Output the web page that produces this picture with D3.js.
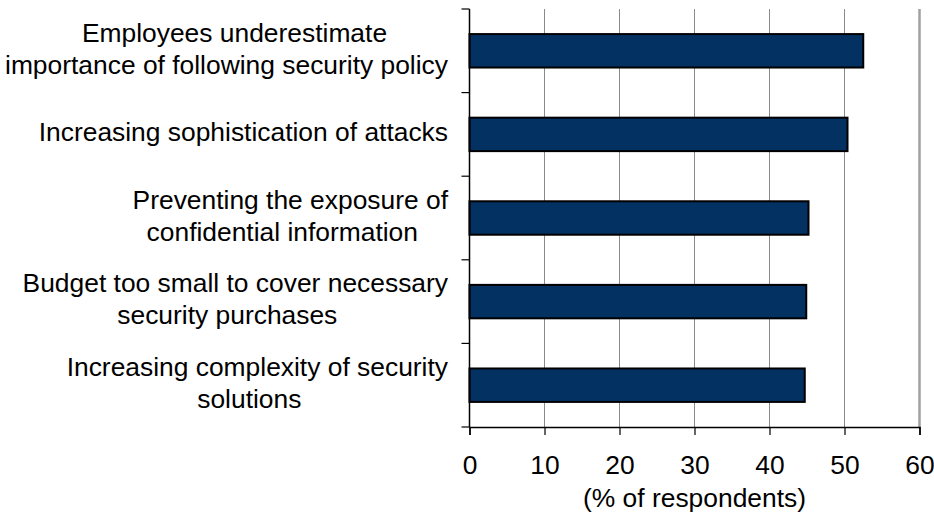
<!DOCTYPE html>
<html>
<head>
<meta charset="utf-8">
<script src="https://cdn.jsdelivr.net/npm/d3@7"></script>
<style>
  html, body { margin: 0; padding: 0; background: #fff; }
  svg { display: block; font-family: "Liberation Sans", Arial, sans-serif; }
</style>
</head>
<body>
<svg id="chart" width="934" height="516"></svg>
<script>
const categories = [
  ["Employees underestimate", "importance of following security policy"],
  ["Increasing sophistication of attacks"],
  ["Preventing the exposure of", "confidential information"],
  ["Budget too small to cover necessary", "security purchases"],
  ["Increasing complexity of security", "solutions"]
];
const values = [52.5, 50.4, 45.2, 44.9, 44.7];
const xTicks = [0, 10, 20, 30, 40, 50, 60];
const xTitle = "(% of respondents)";

const svg = d3.select("#chart");
const margin = { left: 469.5, right: 14.5, top: 9, bottom: 89 };
const W = 934, H = 516;
const plotW = W - margin.left - margin.right;
const plotH = H - margin.top - margin.bottom;
const FS = 26.4;

const x = d3.scaleLinear().domain([0, 60]).range([margin.left, margin.left + plotW]);
const y = d3.scaleBand().domain(d3.range(categories.length))
  .range([margin.top, margin.top + plotH]).paddingInner(0.6).paddingOuter(0.3);

// gridlines
svg.append("g").selectAll("line").data(xTicks.filter(t => t > 0 && t < 60)).join("line")
  .attr("x1", d => x(d)).attr("x2", d => x(d))
  .attr("y1", margin.top).attr("y2", margin.top + plotH)
  .attr("stroke", "#8a8a8a").attr("stroke-width", 1);
// right border
svg.append("line")
  .attr("x1", x(60)).attr("x2", x(60))
  .attr("y1", margin.top).attr("y2", margin.top + plotH)
  .attr("stroke", "#a0a0a0").attr("stroke-width", 2.5);

// bars
svg.append("g").selectAll("rect").data(values).join("rect")
  .attr("x", x(0))
  .attr("y", (d, i) => y(i))
  .attr("width", d => x(d) - x(0))
  .attr("height", y.bandwidth())
  .attr("fill", "#033162")
  .attr("stroke", "#000").attr("stroke-width", 2);

// left axis (ticks at category boundaries)
const step = y.step();
const boundaries = d3.range(categories.length + 1).map(i => margin.top + i * step);
const gl = svg.append("g");
gl.append("line").attr("x1", x(0)).attr("x2", x(0))
  .attr("y1", margin.top).attr("y2", margin.top + plotH)
  .attr("stroke", "#000").attr("stroke-width", 1.5);
gl.selectAll("line.tk").data(boundaries).join("line").attr("class", "tk")
  .attr("x1", x(0) - 8).attr("x2", x(0))
  .attr("y1", d => d).attr("y2", d => d)
  .attr("stroke", "#000").attr("stroke-width", 1.2);

// bottom axis
const xAxis = d3.axisBottom(x).tickValues(xTicks).tickSize(8).tickPadding(20);
const gx = svg.append("g").attr("transform", `translate(0,${margin.top + plotH})`).call(xAxis);
gx.select(".domain").attr("stroke", "#000").attr("stroke-width", 1.5);
gx.selectAll(".tick line").attr("stroke", "#000").attr("stroke-width", 1.2);
gx.selectAll(".tick text").attr("font-size", FS).attr("fill", "#000")
  .attr("font-family", "Liberation Sans, Arial, sans-serif");

svg.append("text")
  .attr("x", (x(0) + x(60)) / 2).attr("y", 507)
  .attr("text-anchor", "middle").attr("font-size", FS).attr("fill", "#000")
  .text(xTitle);

// category labels
const rightEdge = 448;
const lineH = 32;
categories.forEach((lines, i) => {
  const cy = y(i) + y.bandwidth() / 2 - 2.5;
  const g = svg.append("g");
  const texts = lines.map((t, j) => g.append("text")
    .attr("font-size", FS).attr("fill", "#000").attr("text-anchor", "middle")
    .attr("y", cy + (j - (lines.length - 1) / 2) * lineH + 9.3)
    .text(t));
  const widths = texts.map(t => t.node().getComputedTextLength());
  if (lines.length === 1) {
    texts[0].attr("text-anchor", "end").attr("x", rightEdge);
  } else {
    const shift = 8;
    let c1, c2;
    if (widths[0] >= widths[1]) {
      c1 = rightEdge - widths[0] / 2; c2 = c1 - shift;
    } else {
      c2 = rightEdge - widths[1] / 2; c1 = c2 + shift;
    }
    texts[0].attr("x", c1);
    texts[1].attr("x", c2);
  }
});
</script>
</body>
</html>
